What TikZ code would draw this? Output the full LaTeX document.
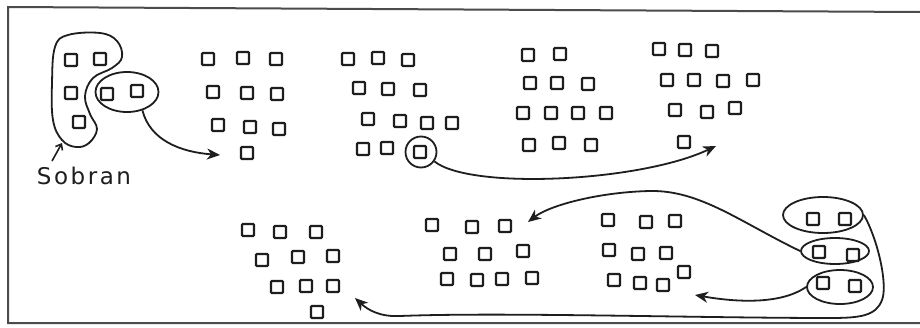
\documentclass[tikz,border=0pt]{standalone}
\usepackage{fontspec}
\usetikzlibrary{arrows.meta,shapes.geometric}
\newfontfamily\handfont[LetterSpace=11]{DejaVu Sans}
\definecolor{ink}{HTML}{1E1E1E}
\begin{document}
\begin{tikzpicture}[x=1pt,y=-1pt,
  sq/.style={draw=ink,line width=2.4pt,minimum size=12pt,inner sep=0pt,rounded corners=1pt},
  loop/.style={draw=ink,line width=1.8pt},
  ring/.style={draw=ink,line width=1.8pt,ellipse,inner sep=0pt},
  arr/.style={draw=ink,line width=1.8pt,-{Stealth[length=13pt,width=11pt,inset=4pt]}},
  frame/.style={draw=ink!80,line width=2pt}]
\useasboundingbox (0,0) rectangle (920,327);
\fill[white] (0,0) rectangle (920,327);
% frame (no right edge)
\draw[frame] (920,12) -- (8,7) -- (8,323) -- (920,323);
% squares
\foreach \p [count=\i] in {(71,60),(100,59),(71,93),(79,122),(107,94),(137,91)}
  \node[sq] (a\i) at \p {};
\foreach \p [count=\i] in {(208,59),(243,58),(276,59),(213,92),(247,93),(277,94),(218,125),(250,127),(279,129),(247,153)}
  \node[sq] (b\i) at \p {};
\foreach \p [count=\i] in {(348,59),(378,58),(408,60),(359,88),(388,89),(420,90),(368,119),(400,121),(427,123),(452,123),(363,149),(387,148),(420,152)}
  \node[sq] (c\i) at \p {};
\foreach \p [count=\i] in {(528,55),(560,54),(530,83),(557,83),(588,84),(523,113),(551,113),(578,113),(606,113),(529,145),(559,143),(591,145)}
  \node[sq] (d\i) at \p {};
\foreach \p [count=\i] in {(659,49),(685,50),(712,51),(667,80),(694,80),(723,81),(753,80),(675,110),(707,112),(735,108),(684,142)}
  \node[sq] (e\i) at \p {};
\foreach \p [count=\i] in {(248,230),(280,232),(316,232),(262,260),(298,257),(333,256),(277,287),(306,286),(333,286),(317,312)}
  \node[sq] (f\i) at \p {};
\foreach \p [count=\i] in {(432,225),(472,227),(505,226),(450,254),(485,254),(523,251),(447,279),(477,280),(502,279),(532,278)}
  \node[sq] (g\i) at \p {};
\foreach \p [count=\i] in {(608,220),(646,222),(675,221),(609,250),(638,254),(666,253),(614,280),(640,283),(663,285),(684,272)}
  \node[sq] (h\i) at \p {};
\foreach \p [count=\i] in {(813,219),(845,219),(819,252),(853,255),(823,283),(855,286)}
  \node[sq] (k\i) at \p {};
% Sobran blob
\draw[loop] plot[smooth cycle,tension=0.65] coordinates {(55,47) (68,35) (100,33) (117,41) (122,57) (112,68) (93,78) (85,96) (90,114) (97,129) (89,143) (76,147) (62,140) (53,120) (52,83)};
\node[ring,minimum width=63pt,minimum height=40pt] (rb) at (127,92) {};
% circled square
\node[draw=ink,line width=1.8pt,circle,minimum size=31pt,inner sep=0pt] (cir) at (421,152) {};
% right ellipses
\node[ring,minimum width=80pt,minimum height=36pt] (r1) at (823,215) {};
\node[ring,minimum width=68pt,minimum height=26pt] (r2) at (835,251) {};
\node[ring,minimum width=66pt,minimum height=34pt] (r3) at (840,287) {};
% label
\node[anchor=base,inner sep=0pt,text=ink] (lbl) at (84,184) {\fontsize{23}{27}\handfont Sobran};
\coordinate (ltail) at (52,161);
\coordinate (lhead) at (62,143);
\draw[draw=ink,line width=1.6pt,-{Straight Barb[length=5pt,width=8pt]}] (ltail) -- (lhead);
% arrow ends
\coordinate (tb) at (220,155);
\coordinate (te) at (716,146);
\coordinate (tf) at (355,298);
\coordinate (tg) at (528,222);
\coordinate (th) at (695,295);
% connectors
\draw[arr] (rb.-50) .. controls (150,140) and (180,152) .. (tb);
\draw[arr] (cir.-35) .. controls (470,190) and (640,182) .. (te);
\draw[arr] (r2.west) .. controls (740,222) and (700,190) .. (650,191) .. controls (600,192) and (550,205) .. (tg);
\draw[arr] (r3.west) .. controls (780,305) and (735,302) .. (th);
\draw[arr] (r1.east) .. controls (878,240) and (888,285) .. (882,300) .. controls (876,316) and (860,318) .. (830,318) .. controls (700,318) and (500,312) .. (400,316) .. controls (380,317) and (368,310) .. (tf);
\end{tikzpicture}
\end{document}
